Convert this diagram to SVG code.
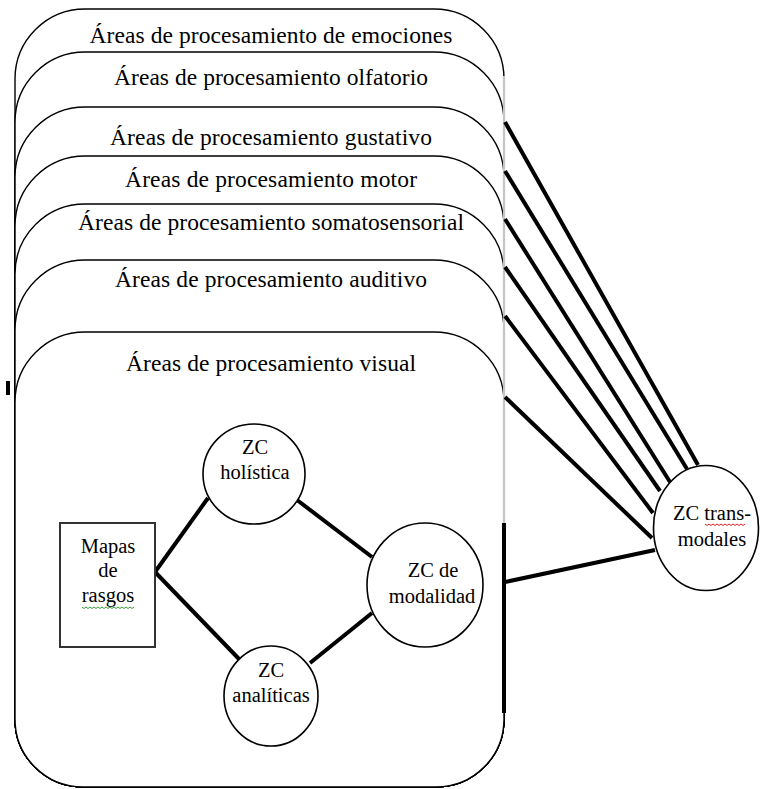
<svg xmlns="http://www.w3.org/2000/svg" width="761" height="789" viewBox="0 0 761 789">
<style>
.area{fill:#fff;stroke:#000;stroke-width:1.4}
.hdr{font-family:"Liberation Serif","Times New Roman",serif;font-size:23.5px;fill:#000;text-anchor:middle}
.lbl{font-family:"Liberation Serif","Times New Roman",serif;font-size:20.5px;fill:#000;text-anchor:middle}
.zc{fill:#fff;stroke:#000;stroke-width:1.6}
.conn{stroke:#000;stroke-width:4;fill:none;stroke-linecap:butt}
.sq{fill:none;stroke-width:1}
</style>
<rect x="0" y="0" width="761" height="789" fill="#fff"/>
<g id="area-emociones">
<path class="area" d="M85,9 H434 A70,70 0 0 1 504,79 V719 A68,68 0 0 1 436,787 H83 A68,68 0 0 1 15,719 V79 A70,70 0 0 1 85,9 Z"/>
<text class="hdr" x="271" y="43" textLength="363">Áreas de procesamiento de emociones</text>
</g>
<g id="area-olfatorio">
<path class="area" d="M85,52 H434 A70,70 0 0 1 504,122 V719 A68,68 0 0 1 436,787 H83 A68,68 0 0 1 15,719 V122 A70,70 0 0 1 85,52 Z"/>
<text class="hdr" x="271" y="85" textLength="314">Áreas de procesamiento olfatorio</text>
</g>
<g id="area-gustativo">
<path class="area" d="M85,107 H434 A70,70 0 0 1 504,177 V719 A68,68 0 0 1 436,787 H83 A68,68 0 0 1 15,719 V177 A70,70 0 0 1 85,107 Z"/>
<text class="hdr" x="271" y="145" textLength="322">Áreas de procesamiento gustativo</text>
</g>
<g id="area-motor">
<path class="area" d="M85,156 H434 A70,70 0 0 1 504,226 V719 A68,68 0 0 1 436,787 H83 A68,68 0 0 1 15,719 V226 A70,70 0 0 1 85,156 Z"/>
<text class="hdr" x="271" y="187" textLength="292">Áreas de procesamiento motor</text>
</g>
<g id="area-somatosensorial">
<path class="area" d="M85,204 H434 A70,70 0 0 1 504,274 V719 A68,68 0 0 1 436,787 H83 A68,68 0 0 1 15,719 V274 A70,70 0 0 1 85,204 Z"/>
<text class="hdr" x="271" y="230" textLength="386">Áreas de procesamiento somatosensorial</text>
</g>
<g id="area-auditivo">
<path class="area" d="M85,260 H434 A70,70 0 0 1 504,330 V719 A68,68 0 0 1 436,787 H83 A68,68 0 0 1 15,719 V330 A70,70 0 0 1 85,260 Z"/>
<text class="hdr" x="271" y="287" textLength="312">Áreas de procesamiento auditivo</text>
</g>
<g id="area-visual">
<path class="area" d="M85,332 H434 A70,70 0 0 1 504,402 V719 A68,68 0 0 1 436,787 H83 A68,68 0 0 1 15,719 V402 A70,70 0 0 1 85,332 Z"/>
<text class="hdr" x="271" y="371" textLength="290">Áreas de procesamiento visual</text>
</g>
<line x1="504" y1="76" x2="504" y2="523" stroke="#c4c4c4" stroke-width="2.2"/>
<rect x="6" y="381" width="4" height="14" fill="#000"/>
<g id="connectors">
<line class="conn" x1="505" y1="122" x2="698" y2="465"/>
<line class="conn" x1="505" y1="171" x2="687" y2="469"/>
<line class="conn" x1="505" y1="219" x2="670" y2="482"/>
<line class="conn" x1="505" y1="267" x2="660" y2="491"/>
<line class="conn" x1="505" y1="316" x2="653" y2="513"/>
<line class="conn" x1="505" y1="397" x2="652" y2="538"/>
<line class="conn" x1="505" y1="582" x2="655" y2="550"/>
<line class="conn" x1="504" y1="523" x2="504" y2="713"/>
<line class="conn" x1="155" y1="572" x2="208" y2="498"/>
<line class="conn" x1="155" y1="572" x2="239" y2="659"/>
<line class="conn" x1="297" y1="500" x2="372" y2="557"/>
<line class="conn" x1="310" y1="663" x2="372" y2="613"/>
</g>
<g id="mapas-rasgos">
<rect x="60" y="523" width="95" height="124" fill="#fff" stroke="#333" stroke-width="2"/>
<text class="lbl" x="108" y="553">Mapas</text>
<text class="lbl" x="108" y="577">de</text>
<text class="lbl" x="108" y="602">rasgos</text>
<path class="sq" stroke="#3a9a3a" d="M82,607 l2,1.5 l2,-1.5 l2,1.5 l2,-1.5 l2,1.5 l2,-1.5 l2,1.5 l2,-1.5 l2,1.5 l2,-1.5 l2,1.5 l2,-1.5 l2,1.5 l2,-1.5 l2,1.5 l2,-1.5 l2,1.5 l2,-1.5 l2,1.5 l2,-1.5 l2,1.5 l2,-1.5 l2,1.5 l2,-1.5 l2,1.5 l2,-1.5"/>
</g>
<g id="zc-holistica">
<ellipse class="zc" cx="254" cy="474" rx="51" ry="50"/>
<text class="lbl" x="255" y="454">ZC</text>
<text class="lbl" x="255" y="479">holística</text>
</g>
<g id="zc-modalidad">
<ellipse class="zc" cx="425" cy="585" rx="58" ry="62"/>
<text class="lbl" x="433" y="577">ZC de</text>
<text class="lbl" x="432" y="603">modalidad</text>
</g>
<g id="zc-analiticas">
<ellipse class="zc" cx="271" cy="696" rx="47" ry="50"/>
<text class="lbl" x="271" y="677">ZC</text>
<text class="lbl" x="271" y="702">analíticas</text>
</g>
<g id="zc-transmodales">
<ellipse class="zc" cx="706" cy="528" rx="52.5" ry="62.5"/>
<text class="lbl" x="712" y="520">ZC trans-</text>
<text class="lbl" x="712" y="546">modales</text>
<path class="sq" stroke="#e02020" d="M705,524 l2,1.5 l2,-1.5 l2,1.5 l2,-1.5 l2,1.5 l2,-1.5 l2,1.5 l2,-1.5 l2,1.5 l2,-1.5 l2,1.5 l2,-1.5 l2,1.5 l2,-1.5 l2,1.5 l2,-1.5 l2,1.5 l2,-1.5 l2,1.5 l2,-1.5"/>
</g>
</svg>
